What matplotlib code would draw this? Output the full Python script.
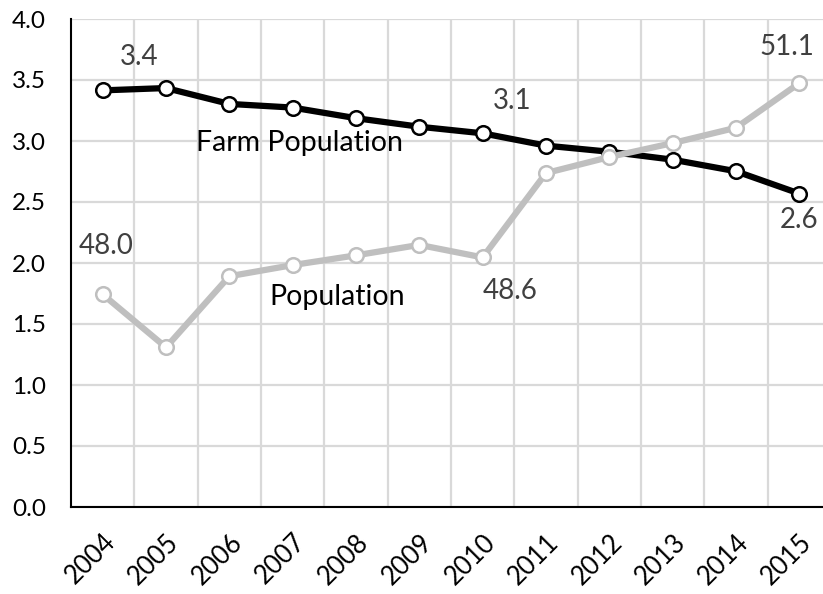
import matplotlib
matplotlib.use("Agg")
from matplotlib import pyplot as plt

# data (millions)
years = ["2004", "2005", "2006", "2007", "2008", "2009",
         "2010", "2011", "2012", "2013", "2014", "2015"]
farm_pop = [3.415, 3.434, 3.304, 3.274, 3.187, 3.117,
            3.063, 2.962, 2.912, 2.847, 2.752, 2.569]
total_pop = [48.05, 47.29, 48.31, 48.47, 48.61, 48.76,
             48.58, 49.79, 50.02, 50.22, 50.44, 51.08]

plt.rcParams['font.family'] = ['Lato', 'DejaVu Sans']

fig = plt.figure(figsize=(8.23, 5.94), dpi=100)
ax = fig.add_axes([71/823, 87/594, 760/823, 488/594])
x = list(range(len(years)))

# grid
ax.set_xlim(-0.5, len(years) - 0.5)
ax.set_ylim(0, 4.0)
ax.set_yticks([i * 0.5 for i in range(9)])
ax.set_yticklabels(["%.1f" % (i * 0.5) for i in range(9)], fontsize=17.5)
ax.set_xticks(x)
ax.set_xticklabels(years, rotation=45, ha='right', rotation_mode='anchor', fontsize=18.5)
ax.set_xticks([i - 0.5 for i in range(1, len(years))], minor=True)
ax.tick_params(axis='both', which='both', length=0)
ax.tick_params(axis='x', pad=16)
ax.tick_params(axis='y', pad=18)
ax.grid(axis='y', color='#d9d9d9', linewidth=1.6)
ax.grid(axis='x', which='minor', color='#d9d9d9', linewidth=1.6)
ax.set_axisbelow(True)
for s in ['top', 'right']:
    ax.spines[s].set_visible(False)
for s in ['left', 'bottom']:
    ax.spines[s].set_linewidth(1.5)

ax.plot(x, farm_pop, color='black', linewidth=4.5, marker='o', markersize=10.5,
        markerfacecolor='white', markeredgecolor='black', markeredgewidth=1.8, zorder=3)

# total population on a hidden secondary scale
ax2 = ax.twinx()
ax2.set_ylim(45, 52)
ax2.axis('off')
ax2.plot(x, total_pop, color='#bfbfbf', linewidth=4.5, marker='o', markersize=10.5,
         markerfacecolor='white', markeredgecolor='#bfbfbf', markeredgewidth=1.8, zorder=3)

lbl = dict(fontsize=20, color='#404040', ha='center', va='center')
ax.text(0.58, 3.69, "%.1f" % farm_pop[0], **lbl)
ax.text(6.46, 3.33, "%.1f" % farm_pop[6], **lbl)
ax.text(11.0, 2.35, "%.1f" % farm_pop[11], **lbl)
ax2.text(0.06, 48.75, "%.1f" % total_pop[0], **lbl)
ax2.text(6.43, 48.1, "%.1f" % total_pop[6], **lbl)
ax2.text(10.8, 51.6, "%.1f" % total_pop[11], **lbl)

ax.text(3.1, 2.98, "Farm Population", fontsize=20.5, color='black', ha='center', va='center')
ax.text(3.71, 1.72, "Population", fontsize=20.5, color='black', ha='center', va='center')

fig.savefig("out.png", dpi=100)
